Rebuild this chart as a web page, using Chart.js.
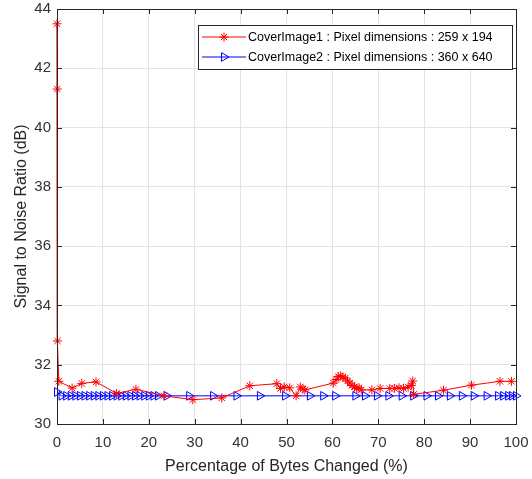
<!DOCTYPE html>
<html>
<head>
<meta charset="utf-8">
<script src="https://cdn.jsdelivr.net/npm/chart.js@4/dist/chart.umd.min.js"></script>
<style>
    html, body { margin: 0; padding: 0; background: #fff; }
    #wrap { width: 532px; height: 479px; }
</style>
</head>
<body>
<div id="wrap"><canvas id="myChart" width="532" height="479"></canvas></div>
<script>
// series
var redX = [0, 0.05, 0.1, 0.4, 3.3, 5.4, 8.5, 13.0, 17.2, 23.3, 29.6, 35.9, 42.0, 47.9, 48.7, 49.5,
    50.7, 52.1, 53.0, 53.6, 54.0, 60.2, 60.8, 61.3, 61.8, 62.3, 62.8, 63.3, 63.8, 64.3, 64.8,
    65.3, 65.8, 66.3, 68.6, 70.4, 72.5, 73.5, 74.5, 75.5, 76.5, 77.2, 77.5, 77.7, 84.2, 90.3, 96.5, 99.0];
var redY = [43.5, 41.3, 32.8, 31.44, 31.21, 31.37, 31.42, 31.03, 31.17, 30.95, 30.82, 30.88, 31.29, 31.36, 31.2, 31.25,
    31.22, 30.95, 31.25, 31.18, 31.15, 31.38, 31.5, 31.6, 31.62, 31.58, 31.55, 31.45, 31.38, 31.3, 31.25,
    31.2, 31.22, 31.15, 31.15, 31.2, 31.2, 31.2, 31.22, 31.2, 31.25, 31.3, 31.45, 31.0, 31.14, 31.31, 31.44, 31.44];

var blueX = [0, 1, 2, 3, 4, 5, 6, 7, 8, 9, 10, 11, 12, 13, 14, 15, 16, 17, 18, 19, 20, 21, 22,
    23.9, 28.8, 34.0, 39.1, 44.2, 49.7, 55.1, 58.0, 60.6, 65.0, 67.1, 69.7, 72.2, 75.1, 77.6,
    80.5, 83.0, 85.6, 88.2, 90.8, 93.6, 96.1, 97.2, 98.3, 99.1, 100];
var blueY = [31.08, 30.95, 30.95, 30.95, 30.95, 30.95, 30.95, 30.95, 30.95, 30.95, 30.95, 30.95, 30.95, 30.95, 30.95, 30.95, 30.95, 30.95, 30.95, 30.95, 30.95, 30.95, 30.95,
    30.95, 30.95, 30.95, 30.95, 30.95, 30.95, 30.95, 30.95, 30.95, 30.95, 30.95, 30.95, 30.95, 30.95, 30.95,
    30.95, 30.95, 30.95, 30.95, 30.95, 30.95, 30.95, 30.95, 30.95, 30.95, 30.95];

var seriesNames = ['CoverImage1 : Pixel dimensions : 259 x 194', 'CoverImage2 : Pixel dimensions : 360 x 640'];
var xTicks = [0, 10, 20, 30, 40, 50, 60, 70, 80, 90, 100];
var yTicks = [30, 32, 34, 36, 38, 40, 42, 44];

function toPoints(xs, ys) {
    var pts = [];
    for (var i = 0; i < xs.length; i++) {
        pts.push({x: xs[i], y: ys[i]});
    }
    return pts;
}

var axisColor = '#262626';
var fontFam = '"Liberation Sans", Arial, sans-serif';

// box around the axes plus inward ticks, like matlab
var framePlugin = {
    id: 'frame',
    afterDatasetsDraw: function (chart) {
        var ctx = chart.ctx;
        var a = chart.chartArea;
        var xs = chart.scales.x, ys = chart.scales.y;
        ctx.save();
        ctx.strokeStyle = axisColor;
        ctx.lineWidth = 1;
        ctx.strokeRect(a.left + 0.5, a.top + 0.5, a.right - a.left, a.bottom - a.top);
        ctx.beginPath();
        xTicks.forEach(function (t) {
            var px = Math.round(xs.getPixelForValue(t)) + 0.5;
            ctx.moveTo(px, a.bottom); ctx.lineTo(px, a.bottom - 5);
            ctx.moveTo(px, a.top); ctx.lineTo(px, a.top + 5);
        });
        yTicks.forEach(function (t) {
            var py = Math.round(ys.getPixelForValue(t)) + 0.5;
            ctx.moveTo(a.left, py); ctx.lineTo(a.left + 5, py);
            ctx.moveTo(a.right, py); ctx.lineTo(a.right - 5, py);
        });
        ctx.stroke();
        ctx.restore();
    }
};

// legend box in the upper right corner
var legendPlugin = {
    id: 'boxLegend',
    afterDraw: function (chart) {
        var ctx = chart.ctx;
        var a = chart.chartArea;
        var bx = a.right - 318, by = a.top + 16, bw = 314, bh = 44;
        ctx.save();
        ctx.fillStyle = '#fff';
        ctx.fillRect(bx, by, bw, bh);
        ctx.strokeStyle = axisColor;
        ctx.lineWidth = 1;
        ctx.strokeRect(bx + 0.5, by + 0.5, bw, bh);
        ctx.font = '12.5px ' + fontFam;
        ctx.textBaseline = 'middle';
        chart.data.datasets.forEach(function (ds, i) {
            var ly = by + 12 + i * 20;
            ctx.strokeStyle = ds.borderColor;
            ctx.lineWidth = 1;
            ctx.beginPath();
            ctx.moveTo(bx + 4, ly); ctx.lineTo(bx + 48, ly);
            ctx.stroke();
            ctx.fillStyle = 'rgba(0,0,0,0)';
            Chart.helpers.drawPoint(ctx, {
                pointStyle: ds.pointStyle, radius: ds.pointRadius, rotation: ds.pointRotation || 0,
                borderWidth: 1
            }, bx + 26, ly);
            ctx.fillStyle = '#000';
            ctx.fillText(ds.label, bx + 50, ly + 1);
        });
        ctx.restore();
    }
};

var ctx = document.getElementById('myChart').getContext('2d');
var chart = new Chart(ctx, {
    type: 'scatter',
    data: {
        datasets: [{
            label: seriesNames[0],
            data: toPoints(redX, redY),
            showLine: true,
            clip: false,
            borderColor: '#ff0000',
            backgroundColor: 'rgba(0,0,0,0)',
            borderWidth: 1,
            pointStyle: 'star',
            pointRadius: 4.5,
            pointBorderColor: '#ff0000',
            pointBorderWidth: 1
        }, {
            label: seriesNames[1],
            data: toPoints(blueX, blueY),
            showLine: true,
            clip: false,
            borderColor: '#0000ff',
            backgroundColor: 'rgba(0,0,0,0)',
            borderWidth: 1,
            pointStyle: 'triangle',
            pointRotation: 90,
            pointRadius: 5,
            pointBorderColor: '#0000ff',
            pointBackgroundColor: 'rgba(0,0,0,0)',
            pointBorderWidth: 1
        }]
    },
    options: {
        responsive: false,
        animation: false,
        layout: {padding: {top: 9, right: 16, left: 0, bottom: 0}},
        plugins: {legend: {display: false}, tooltip: {enabled: false}},
        scales: {
            x: {
                type: 'linear', min: 0, max: 100,
                afterBuildTicks: function (s) { s.ticks = xTicks.map(function (v) { return {value: v}; }); },
                afterFit: function (s) { s.height = 55; s.paddingLeft = 0; s.paddingRight = 0; },
                grid: {color: '#e3e3e3', drawTicks: false},
                border: {display: false},
                ticks: {color: '#333', padding: 10, maxRotation: 0, font: {family: fontFam, size: 15}},
                title: {display: true, text: 'Percentage of Bytes Changed (%)', color: axisColor,
                    padding: {top: 0, bottom: 3}, font: {family: fontFam, size: 16}}
            },
            y: {
                min: 30, max: 44,
                afterBuildTicks: function (s) { s.ticks = yTicks.map(function (v) { return {value: v}; }); },
                afterFit: function (s) { s.width = 57; s.paddingTop = 0; s.paddingBottom = 0; },
                grid: {color: '#e3e3e3', drawTicks: false},
                border: {display: false},
                ticks: {color: '#333', padding: 6, font: {family: fontFam, size: 15}},
                title: {display: true, text: 'Signal to Noise Ratio (dB)', color: axisColor,
                    padding: {top: 12, bottom: 0}, font: {family: fontFam, size: 16}}
            }
        }
    },
    plugins: [framePlugin, legendPlugin]
});
</script>
</body>
</html>
